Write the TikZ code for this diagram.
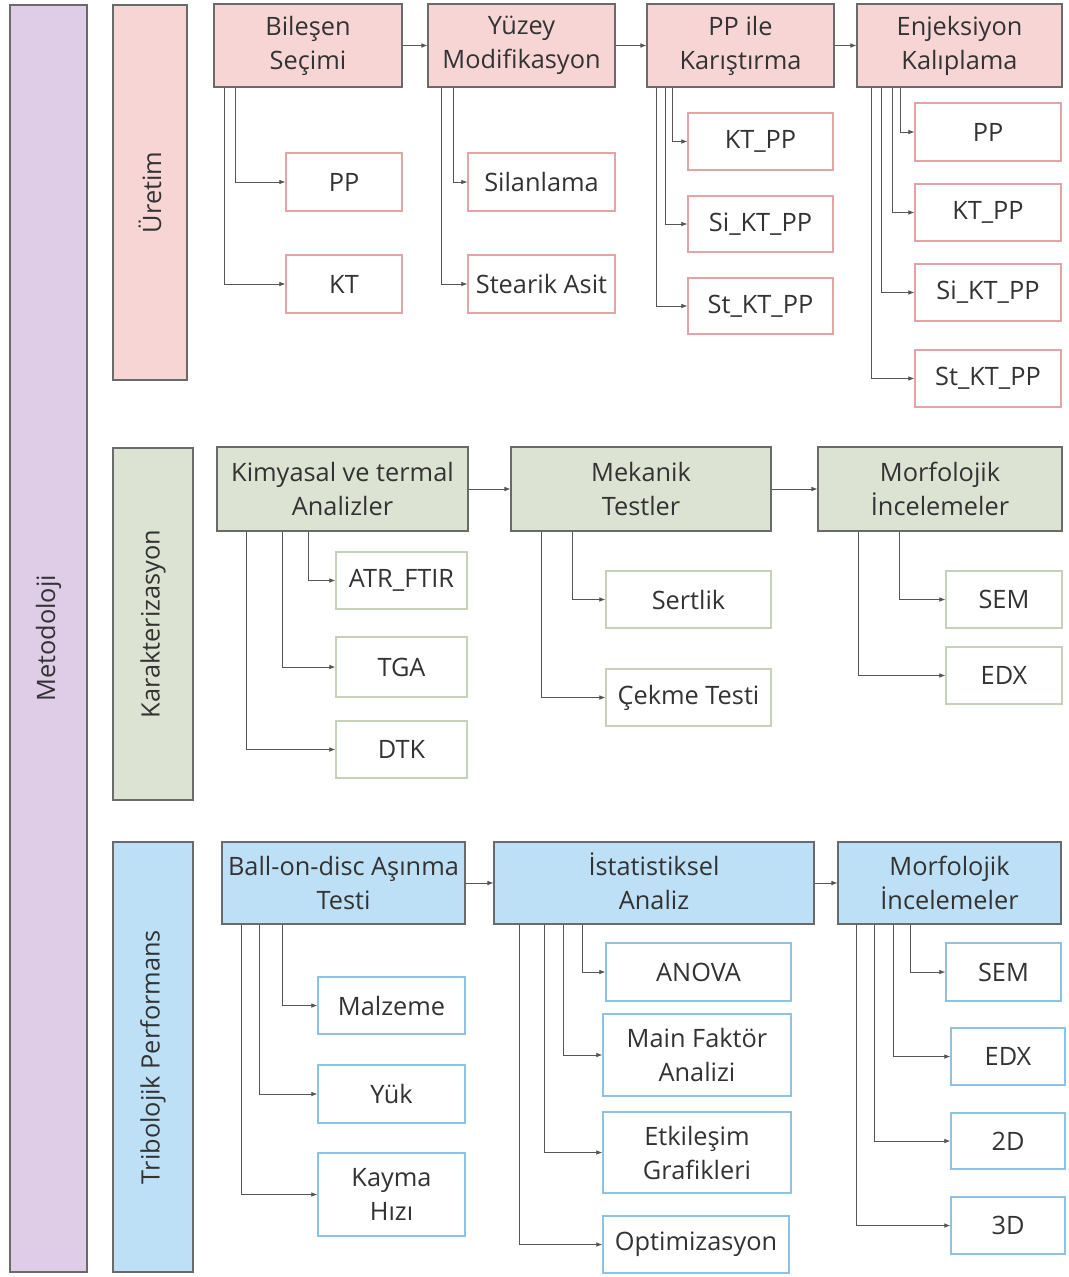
\documentclass[tikz,border=0pt]{standalone}
\usepackage{fontspec}
\setmainfont{Open Sans}
\usetikzlibrary{arrows.meta}
\definecolor{txt}{HTML}{333333}
\definecolor{pfill}{HTML}{F8D5D5}
\definecolor{pline}{HTML}{E6A3A6}
\definecolor{gfill}{HTML}{DCE3D2}
\definecolor{gline}{HTML}{C5D1B8}
\definecolor{bfill}{HTML}{BEE0F6}
\definecolor{bline}{HTML}{8EC2E4}
\definecolor{ufill}{HTML}{DFCDE7}
\definecolor{frame}{HTML}{6A6A6A}
\definecolor{conncol}{HTML}{555555}
\newcommand\bx[7]{\node[#6, minimum width={(#4-#2)*0.75pt}, minimum height={(#5-#3)*0.75pt}] (#1) at ({(#2+#4)/2},{(#3+#5)/2}) {#7};}
\newcommand\vbx[7]{\node[secbox, fill=#6, rotate=90, minimum width={(#5-#3)*0.75pt}, minimum height={(#4-#2)*0.75pt}] (#1) at ({(#2+#4)/2},{(#3+#5)/2}) {#7};}
\begin{document}
\begin{tikzpicture}[x=0.75pt,y=-0.75pt,
  every node/.style={font=\fontsize{19}{25.5}\selectfont, text=txt, align=center, inner sep=0pt},
  secbox/.style={draw=frame, line width=0.8pt},
  ppar/.style={draw=frame, fill=pfill, line width=0.8pt},
  gpar/.style={draw=frame, fill=gfill, line width=0.8pt},
  bpar/.style={draw=frame, fill=bfill, line width=0.8pt},
  pch/.style={draw=pline, fill=white, line width=1pt},
  gch/.style={draw=gline, fill=white, line width=1pt},
  bch/.style={draw=bline, fill=white, line width=1pt},
  conn/.style={draw=conncol, line width=0.6pt, -{Latex[length=4.5pt,width=3.5pt]}}]
\useasboundingbox (0,0) rectangle (1068,1277);
% sections
\vbx{met}{10}{5}{87}{1272}{ufill}{Metodoloji}
\vbx{ure}{113}{5}{187}{380}{pfill}{Üretim}
\vbx{krk}{113}{448}{193}{800}{gfill}{Karakterizasyon}
\vbx{tri}{113}{842}{193}{1272}{bfill}{Tribolojik Performans}
% Uretim
\bx{bil}{214}{4}{402}{87}{ppar}{Bileşen\\Seçimi}
\bx{yuz}{428}{4}{615}{87}{ppar}{Yüzey\\Modifikasyon}
\bx{kar}{647}{4}{834}{87}{ppar}{PP ile\\Karıştırma}
\bx{enj}{857}{4}{1062}{87}{ppar}{Enjeksiyon\\Kalıplama}
\bx{bpp}{286}{153}{402}{211}{pch}{PP}
\bx{bkt}{286}{255}{402}{313}{pch}{KT}
\bx{ysil}{468}{153}{615}{211}{pch}{Silanlama}
\bx{yst}{468}{255}{615}{313}{pch}{Stearik Asit}
\bx{kkt}{688}{113}{833}{170}{pch}{KT\_PP}
\bx{ksi}{688}{196}{833}{252}{pch}{Si\_KT\_PP}
\bx{kst}{688}{278}{833}{334}{pch}{St\_KT\_PP}
\bx{epp}{915}{103}{1061}{161}{pch}{PP}
\bx{ekt}{915}{184}{1061}{241}{pch}{KT\_PP}
\bx{esi}{915}{264}{1061}{321}{pch}{Si\_KT\_PP}
\bx{est}{915}{350}{1061}{407}{pch}{St\_KT\_PP}
\draw[conn] (bil) -- (yuz);
\draw[conn] (yuz) -- (kar);
\draw[conn] (kar) -- (enj);
\draw[conn] (bil.south -| 235,0) |- (bpp);
\draw[conn] (bil.south -| 224,0) |- (bkt);
\draw[conn] (yuz.south -| 453,0) |- (ysil);
\draw[conn] (yuz.south -| 441,0) |- (yst);
\draw[conn] (kar.south -| 672,0) |- (kkt);
\draw[conn] (kar.south -| 665,0) |- (ksi);
\draw[conn] (kar.south -| 656,0) |- (kst);
\draw[conn] (enj.south -| 900,0) |- (epp);
\draw[conn] (enj.south -| 892,0) |- (ekt);
\draw[conn] (enj.south -| 881,0) |- (esi);
\draw[conn] (enj.south -| 871,0) |- (est);
% Karakterizasyon
\bx{kim}{217}{447}{468}{531}{gpar}{Kimyasal ve termal\\Analizler}
\bx{mek}{511}{447}{771}{531}{gpar}{Mekanik\\Testler}
\bx{mor}{818}{447}{1062}{531}{gpar}{Morfolojik\\\smash{İ}ncelemeler}
\bx{atr}{336}{552}{467}{609}{gch}{ATR\_FTIR}
\bx{tga}{336}{637}{467}{697}{gch}{TGA}
\bx{dtk}{336}{721}{467}{778}{gch}{DTK}
\bx{ser}{606}{571}{771}{628}{gch}{Sertlik}
\bx{cek}{606}{669}{771}{726}{gch}{Çekme Testi}
\bx{msem}{946}{571}{1062}{628}{gch}{SEM}
\bx{medx}{946}{647}{1062}{704}{gch}{EDX}
\draw[conn] (kim) -- (mek);
\draw[conn] (mek) -- (mor);
\draw[conn] (kim.south -| 308,0) |- (atr);
\draw[conn] (kim.south -| 282,0) |- (tga);
\draw[conn] (kim.south -| 246,0) |- (dtk);
\draw[conn] (mek.south -| 572,0) |- (ser);
\draw[conn] (mek.south -| 541,0) |- (cek);
\draw[conn] (mor.south -| 899,0) |- (msem);
\draw[conn] (mor.south -| 858,0) |- (medx);
% Tribolojik
\bx{bal}{222}{842}{465}{924}{bpar}{Ball-on-disc Aşınma\\Testi}
\bx{ist}{494}{842}{814}{924}{bpar}{\smash{İ}statistiksel\\Analiz}
\bx{tmor}{838}{842}{1061}{924}{bpar}{Morfolojik\\\smash{İ}ncelemeler}
\bx{mal}{318}{977}{465}{1034}{bch}{Malzeme}
\bx{yuk}{318}{1065}{465}{1123}{bch}{Yük}
\bx{kay}{318}{1153}{465}{1236}{bch}{Kayma\\Hızı}
\bx{ano}{606}{943}{791}{1001}{bch}{ANOVA}
\bx{mfa}{603}{1014}{791}{1096}{bch}{Main Faktör\\Analizi}
\bx{etk}{603}{1112}{791}{1193}{bch}{Etkileşim\\Grafikleri}
\bx{opt}{603}{1216}{789}{1273}{bch}{Optimizasyon}
\bx{tsem}{946}{943}{1061}{1001}{bch}{SEM}
\bx{tedx}{951}{1028}{1065}{1085}{bch}{EDX}
\bx{t2d}{951}{1113}{1065}{1169}{bch}{2D}
\bx{t3d}{951}{1197}{1065}{1254}{bch}{3D}
\draw[conn] (bal) -- (ist);
\draw[conn] (ist) -- (tmor);
\draw[conn] (bal.south -| 282,0) |- (mal);
\draw[conn] (bal.south -| 259,0) |- (yuk);
\draw[conn] (bal.south -| 241,0) |- (kay);
\draw[conn] (ist.south -| 582,0) |- (ano);
\draw[conn] (ist.south -| 563,0) |- (mfa);
\draw[conn] (ist.south -| 544,0) |- (etk);
\draw[conn] (ist.south -| 519,0) |- (opt);
\draw[conn] (tmor.south -| 910,0) |- (tsem);
\draw[conn] (tmor.south -| 893,0) |- (tedx);
\draw[conn] (tmor.south -| 874,0) |- (t2d);
\draw[conn] (tmor.south -| 856,0) |- (t3d);
\end{tikzpicture}
\end{document}
